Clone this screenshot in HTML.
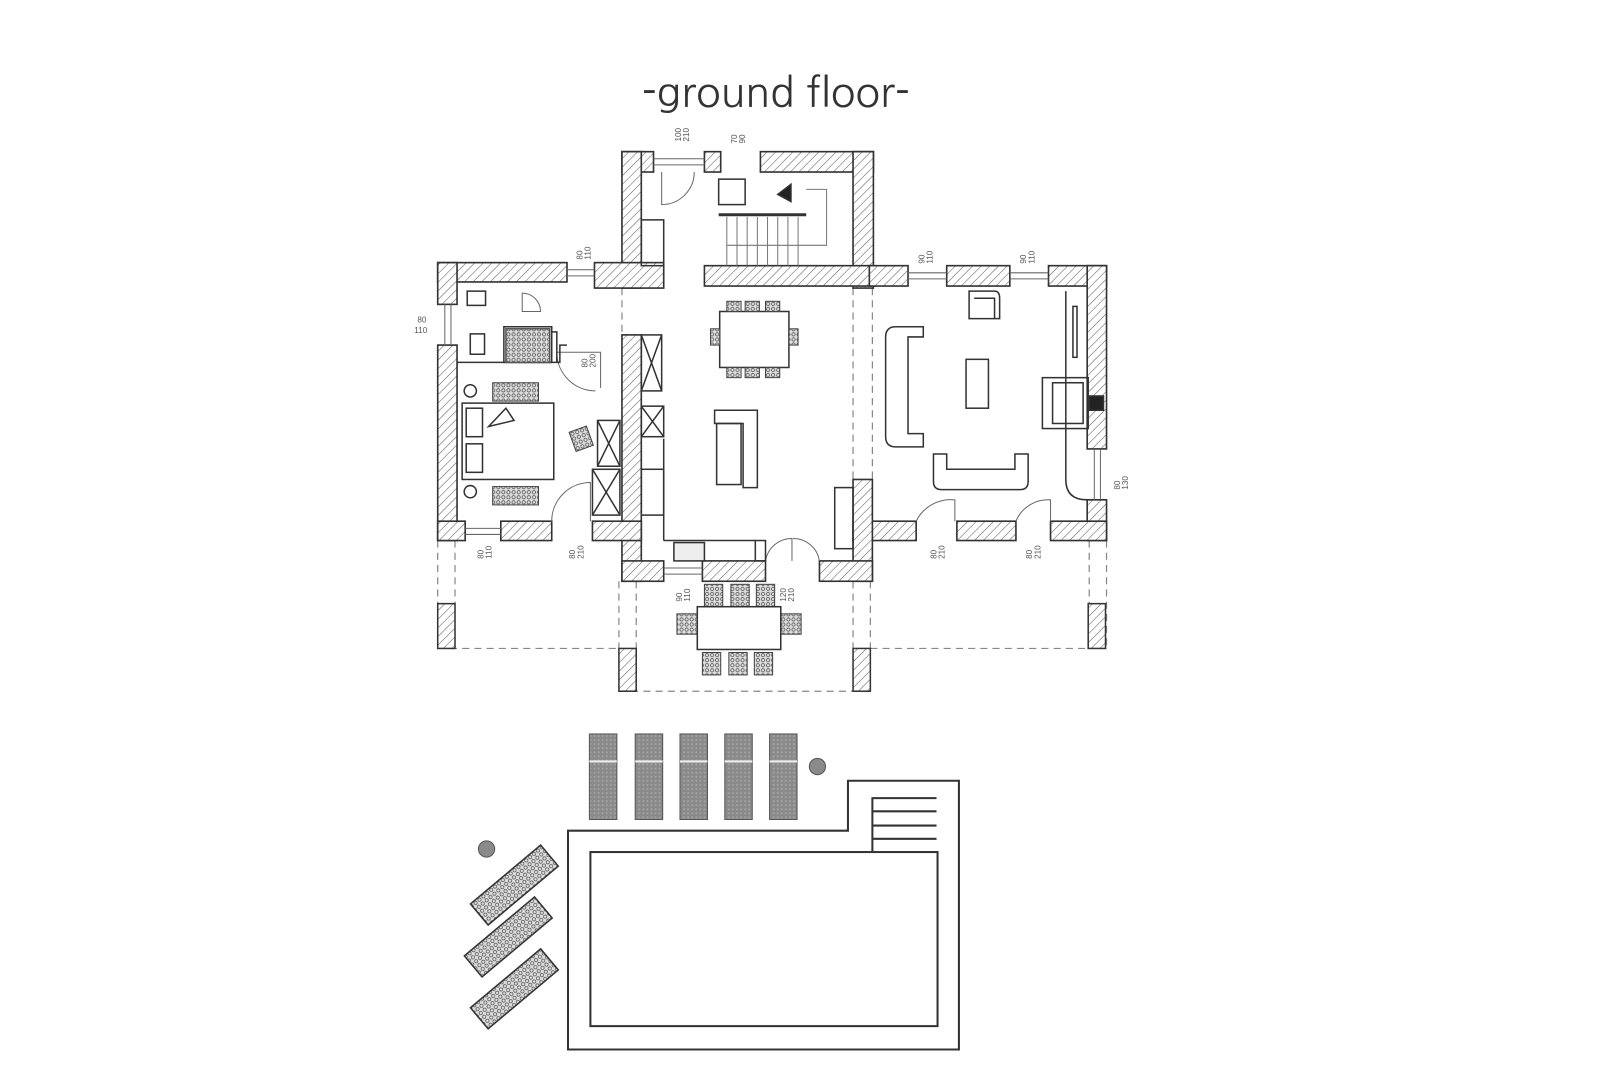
<!DOCTYPE html>
<html><head><meta charset="utf-8"><style>
html,body{margin:0;padding:0;background:#fff;}
svg{display:block}
</style></head><body>
<svg width="1600" height="1067" viewBox="0 0 1600 1067" xmlns="http://www.w3.org/2000/svg">
<defs>
<pattern id="h" width="6" height="6" patternUnits="userSpaceOnUse" patternTransform="rotate(45)">
<rect width="6" height="6" fill="#fff"/><line x1="0" y1="0" x2="0" y2="6" stroke="#555" stroke-width="1"/>
</pattern>
<pattern id="g" width="4" height="4" patternUnits="userSpaceOnUse">
<rect width="4" height="4" fill="#8a8a8a"/><circle cx="2" cy="2" r="1" fill="#a5a5a5"/>
</pattern>
<pattern id="c" width="5" height="5" patternUnits="userSpaceOnUse">
<rect width="5" height="5" fill="#ddd"/><circle cx="2.5" cy="2.5" r="1.6" fill="none" stroke="#555" stroke-width="0.8"/>
</pattern>
</defs>
<g transform="translate(2,1) scale(1.018)">
<text x="760" y="104" font-family="'NanumGothic', 'Liberation Sans', sans-serif" font-size="40" fill="#333" text-anchor="middle">-ground floor-</text>

<g stroke="#888" stroke-width="1.2" stroke-dasharray="7,5" fill="none">
<line x1="428" y1="530" x2="428" y2="636"/><line x1="1085" y1="530" x2="1085" y2="636"/>
<line x1="445" y1="530" x2="445" y2="592"/><line x1="1068" y1="530" x2="1068" y2="592"/>
<line x1="428" y1="636" x2="606" y2="636"/><line x1="853" y1="636" x2="1085" y2="636"/>
<line x1="606" y1="570" x2="606" y2="636"/><line x1="853" y1="570" x2="853" y2="636"/>
<line x1="623" y1="570" x2="623" y2="678"/><line x1="836" y1="570" x2="836" y2="678"/>
<line x1="606" y1="678" x2="853" y2="678"/>
<line x1="836" y1="282" x2="836" y2="470"/><line x1="855" y1="282" x2="855" y2="470"/>
<line x1="609" y1="282" x2="609" y2="328"/>
</g>
<g fill="url(#h)" stroke="#333" stroke-width="1.5">
<rect x="428" y="592" width="17" height="44"/><rect x="1067" y="592" width="17" height="44"/>
<rect x="606" y="636" width="17" height="42"/><rect x="836" y="636" width="17" height="42"/>
</g>

<g fill="url(#h)" stroke="#333" stroke-width="1.6">
<rect x="609" y="148" width="31" height="20"/>
<rect x="690" y="148" width="16" height="20"/>
<rect x="745" y="148" width="111" height="20"/>
<rect x="609" y="148" width="19" height="134"/>
<rect x="836" y="148" width="20" height="134"/>
<rect x="690" y="260" width="166" height="20"/>
<rect x="582" y="257" width="68" height="25"/>
<rect x="852" y="260" width="38" height="20"/>
<rect x="928" y="260" width="62" height="20"/>
<rect x="1028" y="260" width="57" height="20"/>
<rect x="1066" y="260" width="19" height="180"/>
<rect x="1066" y="490" width="19" height="40"/>
<rect x="836" y="511" width="62" height="19"/>
<rect x="938" y="511" width="58" height="19"/>
<rect x="1030" y="511" width="55" height="19"/>
<rect x="836" y="470" width="19" height="100"/>
<rect x="609" y="328" width="19" height="242"/>
<rect x="609" y="550" width="41" height="20"/>
<rect x="688" y="550" width="62" height="20"/>
<rect x="803" y="550" width="52" height="20"/>
<rect x="428" y="257" width="127" height="19"/>
<rect x="428" y="257" width="19" height="41"/>
<rect x="428" y="338" width="19" height="192"/>
<rect x="428" y="511" width="27" height="19"/>
<rect x="490" y="511" width="50" height="19"/>
<rect x="580" y="511" width="48" height="19"/>
</g>
<g stroke="#666" stroke-width="1" fill="none">
<line x1="640" y1="155" x2="690" y2="155"/><line x1="640" y1="161" x2="690" y2="161"/>
<line x1="890" y1="267" x2="928" y2="267"/><line x1="890" y1="273" x2="928" y2="273"/>
<line x1="990" y1="267" x2="1028" y2="267"/><line x1="990" y1="273" x2="1028" y2="273"/>
<line x1="555" y1="264" x2="582" y2="264"/><line x1="555" y1="270" x2="582" y2="270"/>
<line x1="435" y1="298" x2="435" y2="338"/><line x1="441" y1="298" x2="441" y2="338"/>
<line x1="1073" y1="440" x2="1073" y2="490"/><line x1="1079" y1="440" x2="1079" y2="490"/>
<line x1="455" y1="518" x2="490" y2="518"/><line x1="455" y1="524" x2="490" y2="524"/>
<line x1="650" y1="557" x2="688" y2="557"/><line x1="650" y1="563" x2="688" y2="563"/>
<path d="M648 168 L648 200 A32 32 0 0 0 680 168"/>
<path d="M545 345 L588 345 L588 380 M545 345 A38 38 0 0 0 583 383"/>
<path d="M540 511 A38 38 0 0 1 578 473 L578 511"/>
<path d="M898 511 A38 38 0 0 1 936 490 L936 511"/>
<path d="M996 511 A34 34 0 0 1 1030 490 L1030 511"/>
<path d="M750 550 A26 26 0 0 1 776 528 L776 550 M803 550 A26 26 0 0 0 777 528"/>
<path d="M511 287 A18 18 0 0 1 529 305 L511 305 Z"/>
</g>
<g fill="none" stroke="#333" stroke-width="1.5">
<path d="M447 355 L548 355 L548 338 L555 338"/>
<path d="M540 325 L545 325 L545 355"/>
<rect x="493" y="320" width="47" height="35"/>
<rect x="628" y="215" width="22" height="45"/>
<rect x="628" y="328" width="20" height="55"/>
<rect x="628" y="398" width="22" height="30"/>
<rect x="628" y="460" width="22" height="45"/>
<rect x="585" y="412" width="22" height="45"/>
<rect x="580" y="460" width="27" height="45"/>
<path d="M585 412 L607 457 M607 412 L585 457 M580 460 L607 505 M607 460 L580 505 M628 398 L650 428 M650 398 L628 428 M628 328 L648 383 M648 328 L628 383"/>
<line x1="650" y1="430" x2="650" y2="530"/>
<line x1="650" y1="530" x2="740" y2="530"/>
<rect x="740" y="530" width="10" height="20"/>
<rect x="660" y="532" width="30" height="18" fill="#eee"/>
<rect x="704" y="175" width="26" height="25"/>
<line x1="704" y1="210" x2="790" y2="210" stroke-width="3"/>
<g stroke="#777" stroke-width="1">
<path d="M712 212 V260 M722 212 V260 M732 212 V260 M742 212 V260 M752 212 V260 M762 212 V260 M772 212 V260 M782 212 V260"/>
<path d="M790 185 H810 V240 H712"/>
</g>
<polygon points="762,190 775,180 775,197" fill="#222"/>
<path d="M700 402 H742 V478 H728 V415 H700 Z"/>
<rect x="702" y="415" width="24" height="60"/>
<rect x="818" y="478" width="18" height="60"/>
<rect x="705" y="305" width="68" height="55"/>
<g fill="url(#c)" stroke="#444" stroke-width="1"><rect x="712" y="295" width="14" height="10"/><rect x="730" y="295" width="14" height="10"/><rect x="750" y="295" width="14" height="10"/>
<rect x="712" y="360" width="14" height="10"/><rect x="730" y="360" width="14" height="10"/><rect x="750" y="360" width="14" height="10"/>
<rect x="696" y="322" width="9" height="16"/><rect x="773" y="322" width="9" height="16"/>
<rect x="690" y="573" width="18" height="22"/><rect x="716" y="573" width="18" height="22"/><rect x="741" y="573" width="18" height="22"/>
<rect x="688" y="640" width="18" height="22"/><rect x="714" y="640" width="18" height="22"/><rect x="739" y="640" width="18" height="22"/>
<rect x="663" y="602" width="20" height="20"/><rect x="765" y="602" width="20" height="20"/>
<rect x="482" y="375" width="45" height="18"/><rect x="482" y="477" width="45" height="18"/>
<rect x="560" y="420" width="18" height="20" transform="rotate(-20 569 430)"/>
</g>
<rect x="683" y="595" width="82" height="42"/>
<rect x="452" y="395" width="90" height="75"/>
<rect x="456" y="400" width="16" height="28"/><rect x="456" y="435" width="16" height="28"/>
<polygon points="478,418 495,400 503,412" />
<circle cx="460" cy="383" r="6"/><circle cx="460" cy="482" r="6"/>
<rect x="457" y="285" width="18" height="14"/>
<rect x="460" y="327" width="14" height="20"/>
<rect x="495" y="322" width="43" height="33" fill="url(#c)" stroke="#555"/>
<path d="M878 320 H905 V330 H890 V425 H905 V438 H878 Q868 438 868 428 V330 Q868 320 878 320 Z"/>
<path d="M915 445 H928 V460 H995 V445 H1008 V472 Q1008 480 1000 480 H923 Q915 480 915 472 Z"/>
<path d="M950 285 H975 Q980 285 980 292 V312 H950 Z M955 292 H975 V312"/>
<rect x="947" y="352" width="22" height="48"/>
<rect x="1022" y="370" width="45" height="50"/>
<rect x="1032" y="375" width="30" height="40"/>
<rect x="1068" y="388" width="14" height="14" fill="#222"/>
<path d="M1045 285 V470 Q1045 490 1066 490"/>
<rect x="1052" y="300" width="4" height="50"/>
</g>
<g font-family="'Liberation Sans',sans-serif" font-size="8" fill="#555">
<text transform="translate(667,138) rotate(-90)">100</text><text transform="translate(675,138) rotate(-90)">210</text>
<text transform="translate(722,140) rotate(-90)">70</text><text transform="translate(730,140) rotate(-90)">90</text>
<text transform="translate(570,254) rotate(-90)">80</text><text transform="translate(578,254) rotate(-90)">110</text>
<text transform="translate(906,258) rotate(-90)">90</text><text transform="translate(914,258) rotate(-90)">110</text>
<text transform="translate(1006,258) rotate(-90)">90</text><text transform="translate(1014,258) rotate(-90)">110</text>
<text x="408" y="316">80</text><text x="405" y="326">110</text>
<text transform="translate(473,548) rotate(-90)">80</text><text transform="translate(481,548) rotate(-90)">110</text>
<text transform="translate(563,548) rotate(-90)">80</text><text transform="translate(571,548) rotate(-90)">210</text>
<text transform="translate(918,548) rotate(-90)">80</text><text transform="translate(926,548) rotate(-90)">210</text>
<text transform="translate(1012,548) rotate(-90)">80</text><text transform="translate(1020,548) rotate(-90)">210</text>
<text transform="translate(668,590) rotate(-90)">90</text><text transform="translate(676,590) rotate(-90)">110</text>
<text transform="translate(770,590) rotate(-90)">120</text><text transform="translate(778,590) rotate(-90)">210</text>
<text transform="translate(575,360) rotate(-90)">80</text><text transform="translate(583,360) rotate(-90)">200</text>
<text transform="translate(1098,480) rotate(-90)">80</text><text transform="translate(1106,480) rotate(-90)">130</text>
</g>

<g fill="none" stroke="#333" stroke-width="2">
<path d="M556 1030 V815 H831 V766 H940 V1030 Z"/>
<rect x="578" y="836" width="341" height="171"/>
<path d="M855 836 V783 H918 M855 796 H918 M855 810 H918 M855 823 H918"/>
</g>
<g fill="url(#g)" stroke="#555" stroke-width="1">
<rect x="577" y="720" width="27" height="84"/><rect x="622" y="720" width="27" height="84"/>
<rect x="666" y="720" width="27" height="84"/><rect x="710" y="720" width="27" height="84"/>
<rect x="754" y="720" width="27" height="84"/>
</g>
<g stroke="#eee" stroke-width="2"><line x1="577" y1="747" x2="604" y2="747"/><line x1="622" y1="747" x2="649" y2="747"/><line x1="666" y1="747" x2="693" y2="747"/><line x1="710" y1="747" x2="737" y2="747"/><line x1="754" y1="747" x2="781" y2="747"/></g>
<circle cx="801" cy="752" r="8" fill="#8a8a8a" stroke="#555"/>
<circle cx="476" cy="833" r="8" fill="#8a8a8a" stroke="#555"/>
<g fill="url(#c)" stroke="#333" stroke-width="1.5">
<rect x="458" y="855" width="90" height="27" transform="rotate(-40 503 868)"/>
<rect x="452" y="906" width="90" height="27" transform="rotate(-40 497 919)"/>
<rect x="458" y="957" width="90" height="27" transform="rotate(-40 503 970)"/>
</g>
</g>
</svg>
</body></html>
